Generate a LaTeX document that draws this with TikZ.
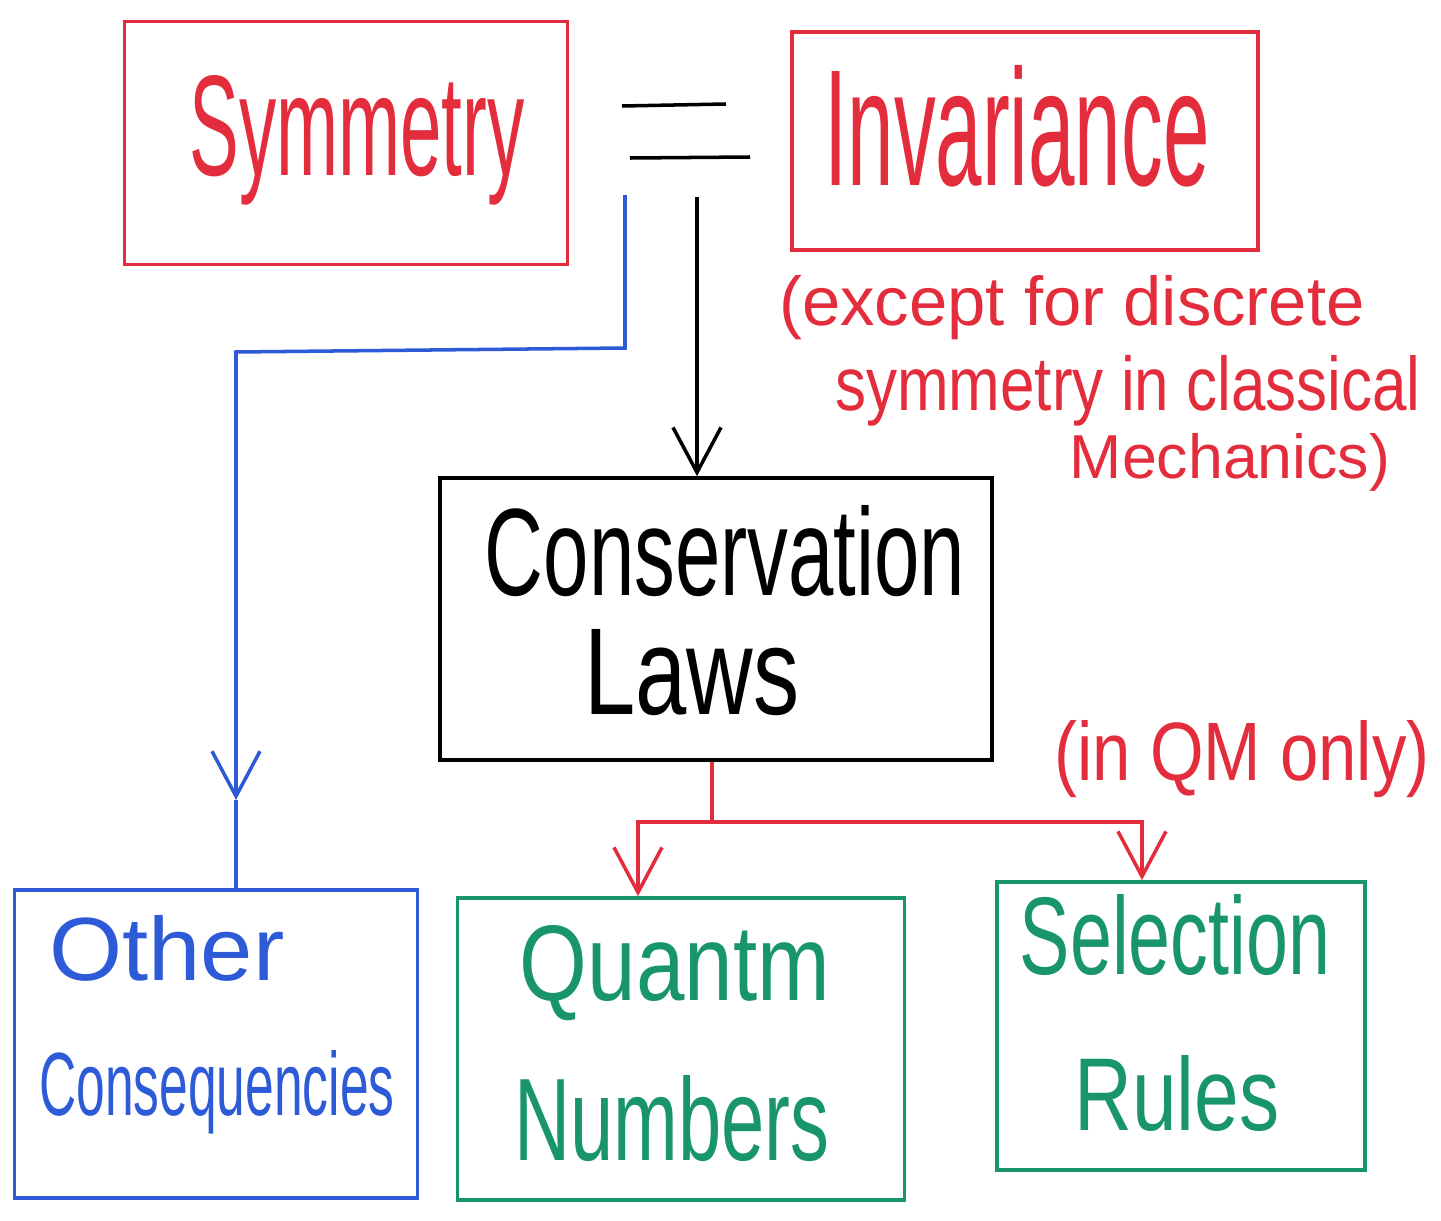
\documentclass[tikz,border=0pt]{standalone}
\usepackage{fontspec}
\setmainfont{Liberation Sans}
\usepackage{graphicx}
\usetikzlibrary{arrows.meta}
\definecolor{pred}{RGB}{228,45,60}
\definecolor{pblue}{RGB}{45,90,215}
\definecolor{pgreen}{RGB}{25,150,105}
\newcommand{\hw}[3]{\resizebox{#1cm}{#2cm}{#3}}
\begin{document}
\begin{tikzpicture}[x=0.01cm,y=-0.01cm,
  box/.style={draw,line width=1pt,inner sep=0pt},
  lbl/.style={inner sep=0pt,anchor=base},
  conn/.style={line width=1pt},
  arr/.style={conn,-{Straight Barb[length=0.45cm,width=0.48cm,line width=1pt]}}]
\useasboundingbox (0,0) rectangle (1441,1221);
% boxes
\node[box,pred,minimum width=4.43cm,minimum height=2.43cm] (sym) at (346,143) {};
\node[box,pred,minimum width=4.66cm,minimum height=2.18cm] (inv) at (1025,141) {};
\node[box,black,minimum width=5.52cm,minimum height=2.82cm] (cons) at (716,619) {};
\node[box,pblue,minimum width=4.03cm,minimum height=3.08cm] (other) at (216,1044) {};
\node[box,pgreen,minimum width=4.47cm,minimum height=3.02cm] (quant) at (681,1049) {};
\node[box,pgreen,minimum width=3.68cm,minimum height=2.88cm] (sel) at (1181,1026) {};
% texts
\node[lbl,pred] (tsym) at (357,175) {\hw{3.35}{1.0}{Symmetry}};
\node[lbl,pred] (tinv) at (1017,185) {\hw{3.85}{1.2}{Invariance}};
\node[lbl,pred] (exc1) at (1072,325) {\hw{5.85}{0.5}{(except for discrete}};
\node[lbl,pred] (exc2) at (1128,410) {\hw{5.85}{0.55}{symmetry in classical}};
\node[lbl,pred] (exc3) at (1230,478) {\hw{3.2}{0.45}{Mechanics)}};
\node[lbl,black] (tcons) at (725,595) {\hw{4.8}{0.9}{Conservation}};
\node[lbl,black] (tlaws) at (692,715) {\hw{2.15}{0.85}{Laws}};
\node[lbl,pred] (qm) at (1242,780) {\hw{3.75}{0.6}{(in QM only)}};
\node[lbl,pblue] (toth) at (167,980) {\hw{2.35}{0.65}{Other}};
\node[lbl,pblue] (tconsq) at (217,1115) {\hw{3.55}{0.65}{Consequencies}};
\node[lbl,pgreen] (tquant) at (675,1000) {\hw{3.1}{0.75}{Quantm}};
\node[lbl,pgreen] (tnum) at (672,1160) {\hw{3.15}{0.85}{Numbers}};
\node[lbl,pgreen] (tsel) at (1175,975) {\hw{3.1}{0.8}{Selection}};
\node[lbl,pgreen] (trul) at (1177,1130) {\hw{2.05}{0.75}{Rules}};
% equals sign
\coordinate (e1a) at (622,106); \coordinate (e1b) at (726,104);
\coordinate (e2a) at (630,158); \coordinate (e2b) at (750,157);
\draw[conn,black] (e1a) -- (e1b);
\draw[conn,black] (e2a) -- (e2b);
% black arrow
\coordinate (ks) at (697,197);
\draw[arr,black] (ks) -- (ks |- cons.north);
% blue connector
\coordinate (bs) at (625,195);
\coordinate (bc) at (625,348);
\coordinate (bd) at (236,352);
\coordinate (bm) at (236,800);
\draw[arr,pblue] (bs) -- (bc) -- (bd) -- (bm);
\draw[conn,pblue] (bm) -- (bm |- other.north);
% red connector
\coordinate (rs) at (712,760);
\coordinate (rj) at (712,822);
\coordinate (rl) at (638,822);
\coordinate (rr) at (1142,822);
\draw[conn,pred] (rs |- cons.south) -- (rj);
\draw[arr,pred] (rj) -- (rl) -- (rl |- quant.north);
\draw[arr,pred] (rj) -- (rr) -- (rr |- sel.north);
\end{tikzpicture}
\end{document}
